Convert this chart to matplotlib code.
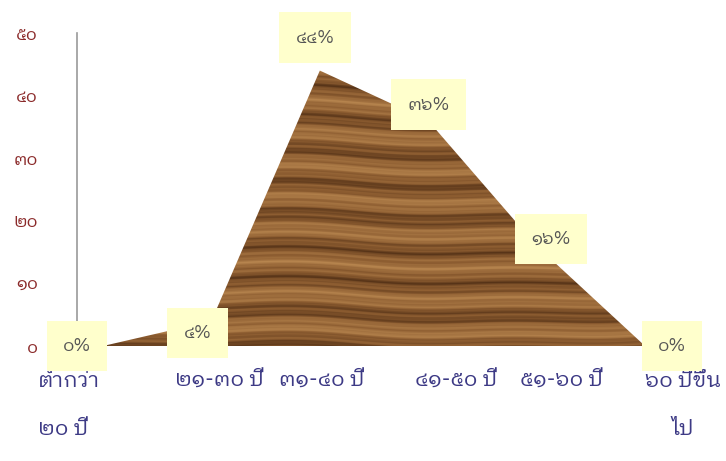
import numpy as np
import matplotlib
matplotlib.use("Agg")
import matplotlib.pyplot as plt
from matplotlib import font_manager
from matplotlib.ft2font import FT2Font
from matplotlib.transforms import blended_transform_factory

# données
categories = ["ต่ำกว่า\n๒๐ ปี", "๒๑-๓๐ ปี", "๓๑-๔๐ ปี", "๔๑-๕๐ ปี", "๕๑-๖๐ ปี", "๖๐ ปีขึ้น\nไป"]
valeurs = [0, 4, 44, 36, 16, 0]
etiquettes = ["๐%", "๔%", "๔๔%", "๓๖%", "๑๖%", "๐%"]
yticks = [0, 10, 20, 30, 40, 50]
yticklabels = ["๐", "๑๐", "๒๐", "๓๐", "๔๐", "๕๐"]


def find_thai_font():
    """Cherche une police installée qui contient les chiffres et signes thaïs."""
    besoin = [0x0E50, 0x0E15, 0x0E48, 0x0E33, 0x0E49]
    trouvees = []
    for f in font_manager.fontManager.ttflist:
        try:
            cmap = FT2Font(f.fname).get_charmap()
        except Exception:
            continue
        if all(c in cmap for c in besoin):
            trouvees.append(f.name)
    if not trouvees:
        return None
    # préférer une police à boucles, plus proche de l'original
    for nom in trouvees:
        if "Looped" in nom:
            return nom
    return trouvees[0]


thai = find_thai_font()
famille = [thai, "DejaVu Sans"] if thai else ["DejaVu Sans"]
plt.rcParams["font.family"] = famille

fig = plt.figure(figsize=(7.26, 4.61), dpi=100)
ax = fig.add_axes([77 / 726, 115 / 461, 623 / 726, 313 / 461])

x = np.arange(len(valeurs))
ax.set_xlim(-0.24, 5.507)
ax.set_ylim(0, 50)

# remplissage bois
poly = ax.fill_between(x, 0, valeurs, color="none", lw=0)
ny, nx = 500, 700
yy, xx = np.mgrid[0:ny, 0:nx].astype(float)
ondule = yy + 6 * np.sin(xx * 0.009) + 3 * np.sin(xx * 0.023 + 2.0)
t = (0.9 * np.sin(ondule * 0.11)
     + 0.5 * np.sin(ondule * 0.37 + 1.3)
     + 0.35 * np.sin(ondule * 0.83 + 0.4)
     + 0.2 * np.sin(ondule * 1.9 + xx * 0.01))
t = (t - t.min()) / (t.max() - t.min())
sombre = np.array([78, 45, 20]) / 255
moyen = np.array([140, 92, 48]) / 255
clair = np.array([188, 138, 82]) / 255
tex = np.where(t[..., None] < 0.45,
               sombre + (moyen - sombre) * (t[..., None] / 0.45),
               moyen + (clair - moyen) * ((t[..., None] - 0.45) / 0.55))
img = ax.imshow(tex, extent=(0, 5, 0, 45), aspect="auto", origin="upper",
                interpolation="bilinear", zorder=2)
img.set_clip_path(poly.get_paths()[0], transform=ax.transData)

# axes
for s in ["top", "right", "bottom"]:
    ax.spines[s].set_visible(False)
ax.spines["left"].set_color("#9a9a9a")
ax.spines["left"].set_linewidth(1.2)
ax.set_yticks(yticks)
ax.set_yticklabels(yticklabels, color="#8b2a2a", fontsize=12.5)
ax.tick_params(axis="y", length=0, pad=28)
ax.set_xticks([])

# étiquettes de l'axe x
decal_x = [-65, 8, 2, 28, 25, 38]
align = ["left", "center", "center", "center", "center", "center"]
trans = blended_transform_factory(ax.transData, ax.transAxes)
for i, lab in enumerate(categories):
    ax.annotate(lab, xy=(i, 0), xycoords=trans, xytext=(decal_x[i], -24),
                textcoords="offset pixels", ha=align[i], va="top",
                fontsize=15.5, color="#3d3a85", linespacing=2.55,
                annotation_clip=False)

# étiquettes de données
decal = [(-26, 0), (-14, -12), (-5, 33), (0, 16), (14, 7), (27, 0)]
for i, (v, lab) in enumerate(zip(valeurs, etiquettes)):
    ax.annotate(lab, xy=(i, v), xytext=decal[i], textcoords="offset pixels",
                ha="center", va="center", fontsize=13, color="#555555",
                bbox=dict(boxstyle="square,pad=0.9", fc="#ffffcc", ec="none"),
                zorder=5, annotation_clip=False)

fig.savefig("out.png", dpi=100)
